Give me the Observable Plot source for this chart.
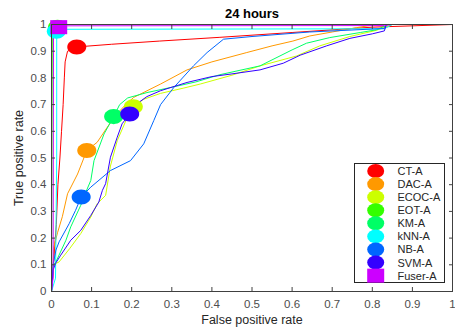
<!DOCTYPE html>
<html>
<head>
<meta charset="utf-8">
<script src="https://cdn.jsdelivr.net/npm/d3@7"></script>
<script src="https://cdn.jsdelivr.net/npm/@observablehq/plot@0.6"></script>
<style>
  html, body { margin: 0; padding: 0; background: white; }
  #wrap { position: relative; width: 455px; height: 331px; overflow: hidden; }
  #legend { position: absolute; left: 0; top: 0; }
</style>
</head>
<body>
<div id="wrap"></div>
<script>
// ---- Data ----
const titleText = "24 hours";
const xLabel = "False positive rate";
const yLabel = "True positive rate";
const xTicks = [0, 0.1, 0.2, 0.3, 0.4, 0.5, 0.6, 0.7, 0.8, 0.9, 1];
const yTicks = [0, 0.1, 0.2, 0.3, 0.4, 0.5, 0.6, 0.7, 0.8, 0.9, 1];
const seriesNames = ["CT-A", "DAC-A", "ECOC-A", "EOT-A", "KM-A", "kNN-A", "NB-A", "SVM-A", "Fuser-A"];
const seriesColors = ["#ff0000", "#ff9900", "#ccff00", "#33ff00", "#00ff66", "#00ffff", "#0066ff", "#3300ff", "#cc00ff"];

// ROC curves: [false positive rate, true positive rate]
const ctA = [[0,0],[0.003,0.05],[0.005,0.1],[0.008,0.17],[0.012,0.25],[0.016,0.4],[0.021,0.5],[0.025,0.6],[0.029,0.7],[0.032,0.8],[0.034,0.86],[0.04,0.9],[0.063,0.916],[0.15,0.926],[0.27,0.938],[0.42,0.952],[0.6,0.97],[0.8,0.99],[1,1]];
const dacA = [[0,0],[0.004,0.1],[0.006,0.167],[0.015,0.22],[0.027,0.28],[0.04,0.366],[0.065,0.44],[0.088,0.528],[0.114,0.559],[0.139,0.615],[0.16,0.66],[0.185,0.7],[0.205,0.727],[0.272,0.777],[0.338,0.83],[0.4,0.86],[0.487,0.895],[0.55,0.92],[0.602,0.938],[0.644,0.957],[0.7,0.972],[0.76,0.988],[0.81,1],[1,1]];
const ecocA = [[0,0],[0.005,0.1],[0.019,0.111],[0.045,0.16],[0.073,0.217],[0.098,0.279],[0.114,0.329],[0.135,0.36],[0.147,0.47],[0.164,0.565],[0.189,0.652],[0.204,0.692],[0.23,0.72],[0.272,0.742],[0.33,0.762],[0.371,0.777],[0.45,0.81],[0.52,0.845],[0.611,0.882],[0.669,0.92],[0.744,0.955],[0.81,0.978],[0.85,1],[1,1]];
const eotA = [[0,0],[0.001,0.5],[0.002,1],[1,1]];
const kmA = [[0,0],[0.005,0.1],[0.011,0.111],[0.036,0.192],[0.048,0.242],[0.073,0.323],[0.085,0.37],[0.098,0.416],[0.106,0.49],[0.131,0.59],[0.155,0.655],[0.17,0.7],[0.19,0.725],[0.238,0.745],[0.3,0.765],[0.36,0.785],[0.42,0.812],[0.52,0.845],[0.6,0.905],[0.636,0.93],[0.694,0.951],[0.77,0.97],[0.81,0.98],[0.84,1],[1,1]];
const knnA = [[0,0],[0.01,0.05],[0.013,0.5],[0.013,0.982],[0.83,0.984],[0.85,1],[1,1]];
const nbA = [[0,0],[0.004,0.1],[0.011,0.155],[0.019,0.186],[0.044,0.254],[0.06,0.304],[0.074,0.354],[0.098,0.391],[0.147,0.453],[0.197,0.49],[0.23,0.553],[0.255,0.64],[0.272,0.7],[0.305,0.764],[0.354,0.845],[0.388,0.895],[0.429,0.945],[0.5,0.955],[0.644,0.972],[0.83,0.985],[0.835,1],[1,1]];
const svmA = [[0,0],[0.004,0.08],[0.01,0.105],[0.023,0.136],[0.048,0.192],[0.073,0.229],[0.098,0.285],[0.118,0.335],[0.127,0.379],[0.135,0.404],[0.147,0.503],[0.164,0.578],[0.176,0.628],[0.195,0.665],[0.21,0.7],[0.238,0.73],[0.272,0.752],[0.338,0.783],[0.4,0.805],[0.45,0.815],[0.52,0.83],[0.578,0.855],[0.62,0.885],[0.686,0.92],[0.744,0.948],[0.8,0.965],[0.83,0.976],[0.835,1],[1,1]];
const fuserA = [[0,0],[0.004,0.05],[0.005,0.995],[0.83,0.996],[0.85,1],[1,1]];

// Operating-point markers
const markerFpr = [0.063, 0.088, 0.204, 0.015, 0.155, 0.012, 0.074, 0.195, 0.018];
const markerTpr = [0.916, 0.528, 0.692, 0.99, 0.655, 0.975, 0.354, 0.665, 0.99];

// ---- Build tables ----
const curves = [ctA, dacA, ecocA, eotA, kmA, knnA, nbA, svmA, fuserA];
const lineRows = curves.flatMap((c, i) => c.map(([x, y]) => ({name: seriesNames[i], fpr: x, tpr: y})));
const markerRows = seriesNames.map((name, i) => ({name, fpr: markerFpr[i], tpr: markerTpr[i]}));

function ellipseSymbol(ax, ay) {
  return {
    draw(ctx, size) {
      const r = Math.sqrt(size / Math.PI), rx = r * ax, ry = r * ay, k = 0.5523;
      ctx.moveTo(rx, 0);
      ctx.bezierCurveTo(rx, ry * k, rx * k, ry, 0, ry);
      ctx.bezierCurveTo(-rx * k, ry, -rx, ry * k, -rx, 0);
      ctx.bezierCurveTo(-rx, -ry * k, -rx * k, -ry, 0, -ry);
      ctx.bezierCurveTo(rx * k, -ry, rx, -ry * k, rx, 0);
      ctx.closePath();
    }
  };
}
function rectSymbol(ax, ay) {
  return {
    draw(ctx, size) {
      const r = Math.sqrt(size / Math.PI), w = r * ax, h = r * ay;
      ctx.rect(-w, -h, 2 * w, 2 * h);
    }
  };
}
const ellipse = ellipseSymbol(1.19, 0.94);
const square = rectSymbol(1.06, 0.88);

const fmt = d => String(d);
const axisColor = "#404040";

const chart = Plot.plot({
  width: 455,
  height: 331,
  marginLeft: 51,
  marginRight: 3,
  marginTop: 24,
  marginBottom: 40,
  x: {domain: [0, 1]},
  y: {domain: [0, 1]},
  color: {domain: seriesNames, range: seriesColors},
  style: {fontFamily: "'Liberation Sans', Arial, sans-serif", fontSize: "11.5px", color: "#4d4d4d", background: "white"},
  marks: [
    Plot.line(lineRows, {x: "fpr", y: "tpr", z: "name", stroke: "name", strokeWidth: 1}),
    Plot.dot(markerRows.filter(d => d.name !== "Fuser-A"), {x: "fpr", y: "tpr", fill: "name", r: 8, symbol: ellipse, stroke: "none"}),
    Plot.dot(markerRows.filter(d => d.name === "Fuser-A"), {x: "fpr", y: "tpr", fill: "name", r: 8, symbol: square, stroke: "none"}),
    Plot.frame({stroke: axisColor, strokeWidth: 1}),
    Plot.axisX({ticks: xTicks, tickSize: -4, tickPadding: 12, tickFormat: fmt, label: null, stroke: axisColor}),
    Plot.axisX({anchor: "top", ticks: xTicks, tickSize: -4, tickFormat: () => "", label: null, stroke: axisColor}),
    Plot.axisY({ticks: yTicks, tickSize: -4, tickPadding: 9, tickFormat: fmt, label: null, stroke: axisColor}),
    Plot.axisY({anchor: "right", ticks: yTicks, tickSize: -4, tickFormat: () => "", label: null, stroke: axisColor}),
    Plot.text([titleText], {frameAnchor: "top", dy: -11, lineAnchor: "middle", fontWeight: "bold", fontSize: 13, fill: "black", textAnchor: "middle"}),
    Plot.text([xLabel], {frameAnchor: "bottom", dy: 28, lineAnchor: "middle", fontSize: 12.5, fill: "#262626", textAnchor: "middle"}),
    Plot.text([yLabel], {frameAnchor: "left", dx: -33, rotate: -90, fontSize: 12.5, fill: "#262626", textAnchor: "middle"})
  ]
});
document.getElementById("wrap").appendChild(chart);

// ---- Legend (overlay inside the axes, as in the reference) ----
const lg = d3.select("#wrap").append("svg")
  .attr("id", "legend").attr("width", 455).attr("height", 331)
  .style("font-family", "'Liberation Sans', Arial, sans-serif");
const box = {x: 354.5, y: 163.5, w: 90, h: 119};
lg.append("rect").attr("x", box.x).attr("y", box.y).attr("width", box.w).attr("height", box.h)
  .attr("fill", "white").attr("stroke", "#262626").attr("stroke-width", 1);
const rowH = 13.08;
seriesNames.forEach((name, i) => {
  const cy = 171 + i * rowH;
  if (name === "Fuser-A") {
    lg.append("rect").attr("x", 375.7 - 8.5).attr("y", cy - 7).attr("width", 17).attr("height", 14).attr("fill", seriesColors[i]);
  } else {
    lg.append("ellipse").attr("cx", 375.7).attr("cy", cy).attr("rx", 8.5).attr("ry", 7).attr("fill", seriesColors[i]);
  }
  lg.append("text").attr("x", 397.5).attr("y", cy).attr("dy", "0.36em")
    .attr("font-size", 11).attr("fill", "#262626").text(name);
});
</script>
</body>
</html>
